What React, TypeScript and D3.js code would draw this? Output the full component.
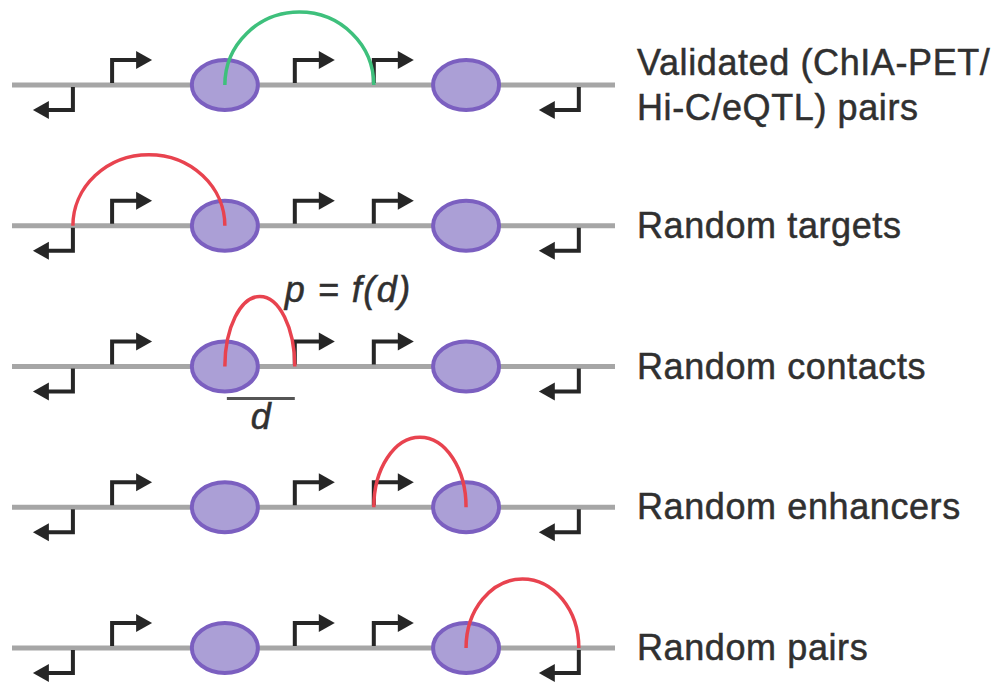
import React from "react";
import * as d3 from "d3";

// Row labels (each row may have several text lines)
const rowLabels: string[][] = [
  ["Validated (ChIA-PET/", "Hi-C/eQTL) pairs"],
  ["Random targets"],
  ["Random contacts"],
  ["Random enhancers"],
  ["Random pairs"],
];
const rowKeys = ["validated", "targets", "contacts", "enhancers", "pairs"];

// Genomic positions of features (arbitrary units 0–100 along the locus)
const locusExtent = [0, 100];
const forwardPromoters = [16.6, 46.9, 60.0];
const reversePromoters = [10.1, 94.0];
const enhancers = [35.3, 75.3];

// Interaction arcs per row: from/to positions, height, colour kind
const arcFrom = [35.3, 10.1, 35.3, 60.0, 75.3];
const arcTo = [60.0, 35.3, 46.9, 75.3, 94.0];
const arcHeights = [73, 71, 70, 70, 69];
const arcKinds = ["validated", "random", "random", "random", "random"];

const W = 1007;
const H = 684;

export default function App() {
  const x = d3.scaleLinear().domain(locusExtent).range([12, 615]);
  const y = d3.scalePoint<string>().domain(rowKeys).range([85, 648]);
  const arcColor = d3
    .scaleOrdinal<string, string>()
    .domain(["validated", "random"])
    .range(["#3ec07c", "#e8434f"]);

  const font = "'Liberation Sans', Arial, Helvetica, sans-serif";
  const ink = "#262626";
  const textInk = "#303030";

  const fwdArrow = (px: number, py: number, key: string) => {
    const up = 23;
    const shaft = 26;
    return (
      <g key={key}>
        <path
          d={`M${px},${py} V${py - up} H${px + shaft}`}
          fill="none"
          stroke={ink}
          strokeWidth={4}
        />
        <path
          d={`M${px + shaft - 2},${py - up - 9} L${px + shaft + 14},${py - up} L${px + shaft - 2},${py - up + 9} Z`}
          fill={ink}
        />
      </g>
    );
  };
  const revArrow = (px: number, py: number, key: string) => {
    const down = 23;
    const shaft = 26;
    return (
      <g key={key}>
        <path
          d={`M${px},${py} V${py + down} H${px - shaft}`}
          fill="none"
          stroke={ink}
          strokeWidth={4}
        />
        <path
          d={`M${px - shaft + 2},${py + down - 9} L${px - shaft - 14},${py + down} L${px - shaft + 2},${py + down + 9} Z`}
          fill={ink}
        />
      </g>
    );
  };

  return (
    <svg
      width={W}
      height={H}
      viewBox={`0 0 ${W} ${H}`}
      style={{ position: "absolute", left: 0, top: 0, background: "#fff" }}
    >
      {rowKeys.map((k, i) => {
        const ry = y(k) as number;
        const x1 = x(arcFrom[i]);
        const x2 = x(arcTo[i]);
        const rx = (x2 - x1) / 2;
        const labels = rowLabels[i];
        return (
          <g key={k}>
            <line
              x1={x(locusExtent[0])}
              x2={x(locusExtent[1])}
              y1={ry}
              y2={ry}
              stroke="#a6a6a6"
              strokeWidth={5}
            />
            {forwardPromoters.map((p, j) => fwdArrow(x(p), ry - 2, `f${j}`))}
            {reversePromoters.map((p, j) => revArrow(x(p), ry + 2, `r${j}`))}
            {enhancers.map((e, j) => (
              <ellipse
                key={`e${j}`}
                cx={x(e)}
                cy={ry}
                rx={33}
                ry={25}
                fill="#ab9fd6"
                stroke="#7b5fc0"
                strokeWidth={4}
              />
            ))}
            <path
              d={`M${x1},${ry} A${rx},${arcHeights[i]} 0 0 1 ${x2},${ry}`}
              fill="none"
              stroke={arcColor(arcKinds[i])}
              strokeWidth={3.5}
            />
            {labels.map((t, j) => (
              <text
                key={j}
                x={637}
                y={labels.length === 1 ? ry + 12 : ry - 10 + j * 45}
                fontFamily={font}
                fontSize={36}
                letterSpacing={0.6}
                fill={textInk}
                stroke={textInk}
                strokeWidth={0.5}
              >
                {t}
              </text>
            ))}
            {k === "contacts" && (
              <g>
                <text
                  x={x(arcTo[i]) - 10}
                  y={ry - 65}
                  fontFamily={font}
                  fontSize={36}
                  letterSpacing={1.5}
                  fontStyle="italic"
                  fill={textInk}
                  stroke={textInk}
                  strokeWidth={0.5}
                >
                  p = f(d)
                </text>
                <line
                  x1={x1 + 2}
                  x2={x2}
                  y1={ry + 32}
                  y2={ry + 32}
                  stroke="#555"
                  strokeWidth={3}
                />
                <text
                  x={(x1 + x2) / 2 + 1}
                  y={ry + 62}
                  fontFamily={font}
                  fontSize={36}
                  fontStyle="italic"
                  textAnchor="middle"
                  fill={textInk}
                  stroke={textInk}
                  strokeWidth={0.5}
                >
                  d
                </text>
              </g>
            )}
          </g>
        );
      })}
    </svg>
  );
}
